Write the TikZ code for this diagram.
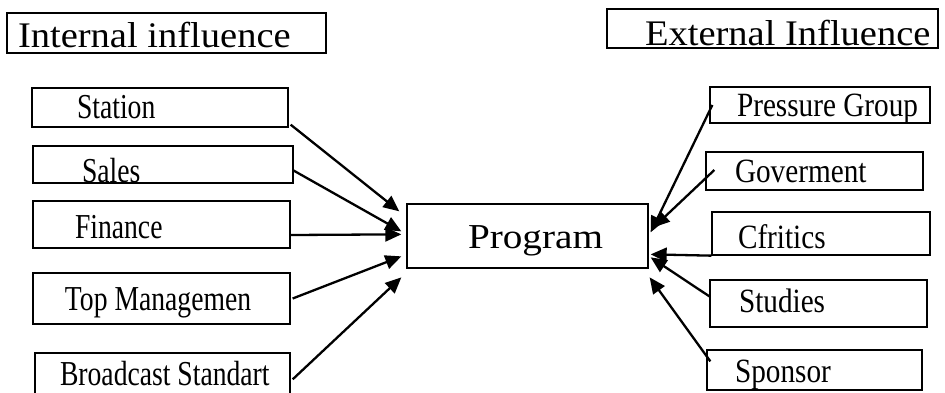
\documentclass[tikz,border=0pt]{standalone}
\usepackage{fontspec}
\setmainfont{Liberation Serif}
\newfontfamily\leftfont[FakeStretch=0.79]{Liberation Serif}
\newfontfamily\rightfont[FakeStretch=0.86]{Liberation Serif}
\newfontfamily\titlefont[FakeStretch=1.07]{Liberation Serif}
\newfontfamily\progfont[FakeStretch=1.12]{Liberation Serif}
\usetikzlibrary{arrows.meta,calc}
\newcommand\bxt[3]{\hbox to #1pt{\hskip #2pt\relax #3\hfil}}
\tikzset{
  frame/.style={draw=black, line width=1.3pt, inner sep=0pt, text depth=0pt, anchor=center},
  lbl/.style={font=\leftfont\fontsize{35}{40}\selectfont},
  rbl/.style={font=\rightfont\fontsize{34}{40}\selectfont},
  ttl/.style={font=\titlefont\fontsize{36}{40}\selectfont},
  prg/.style={font=\progfont\fontsize{35}{40}\selectfont},
  conn/.style={line width=2.3pt, -{Triangle[length=16pt,width=14pt]}}
}
\begin{document}
\begin{tikzpicture}[x=1pt,y=-1pt]
\useasboundingbox (0,0) rectangle (945,392);
\clip (0,0) rectangle (945,392);
% titles
\node[frame,ttl,minimum width=319,minimum height=40,text height=28pt] (internal) at (166.5,33) {\bxt{319}{11}{Internal influence}};
\node[frame,ttl,minimum width=331,minimum height=39,text height=33pt] (external) at (772.5,28.5) {\bxt{331}{38}{External Influence}};
% left boxes
\node[frame,lbl,minimum width=256,minimum height=39,text height=21pt] (station) at (160,107.5) {\bxt{256}{45}{Station}};
\node[frame,lbl,minimum width=260,minimum height=37,text height=35pt] (sales) at (163,164.5) {\bxt{260}{49}{Sales}};
\node[frame,lbl,minimum width=257,minimum height=47,text height=27pt] (finance) at (161.5,224.5) {\bxt{257}{42}{Finance}};
\node[frame,lbl,minimum width=257,minimum height=51,text height=23pt] (top) at (161.5,298.5) {\bxt{257}{32}{Top Managemen}};
\node[frame,lbl,minimum width=255,minimum height=47,text height=17pt] (broad) at (162.5,376.5) {\bxt{255}{25}{Broadcast Standart}};
% centre
\node[frame,prg,minimum width=241,minimum height=64,text height=24pt] (program) at (527.5,236) {\bxt{241}{61}{Program}};
% right boxes
\node[frame,rbl,minimum width=220,minimum height=36,text height=22pt] (pressure) at (820,105) {\bxt{220}{27}{Pressure Group}};
\node[frame,rbl,minimum width=217,minimum height=38,text height=22pt] (gov) at (814.5,171) {\bxt{217}{29}{Goverment}};
\node[frame,rbl,minimum width=218,minimum height=43,text height=29pt] (critics) at (821,233.5) {\bxt{218}{26}{Cfritics}};
\node[frame,rbl,minimum width=217,minimum height=47,text height=17pt] (studies) at (818.5,303.5) {\bxt{217}{29}{Studies}};
\node[frame,rbl,minimum width=215,minimum height=40,text height=24pt] (sponsor) at (814.5,370) {\bxt{215}{28}{Sponsor}};
% left connectors
\draw[conn] ($(station.south east)+(2,-3)$) -- ($(program.north west)+(-7,8)$);
\draw[conn] ($(sales.east)+(-1,5.5)$) -- ($(program.north west)+(-5,28)$);
\draw[conn] ($(finance.east)+(0,10.5)$) -- ($(program.north west)+(-5,31)$);
\draw[conn] ($(top.east)+(2,0)$) -- ($(program.north west)+(-5,53)$);
\draw[conn] ($(broad.north east)+(2,27)$) -- ($(program.north west)+(-5,74)$);
% right connectors
\draw[conn] ($(pressure.west)+(3,0)$) -- ($(program.north east)+(2,29)$);
\draw[conn] ($(gov.west)+(9,-1)$) -- ($(program.north east)+(5,24)$);
\draw[conn] (critics.south west) -- ($(program.north east)+(2,51)$);
\draw[conn] ($(studies.west)+(1,-6.5)$) -- ($(program.north east)+(2,54)$);
\draw[conn] ($(sponsor.north west)+(4,12)$) -- ($(program.north east)+(1,74)$);
\end{tikzpicture}
\end{document}
